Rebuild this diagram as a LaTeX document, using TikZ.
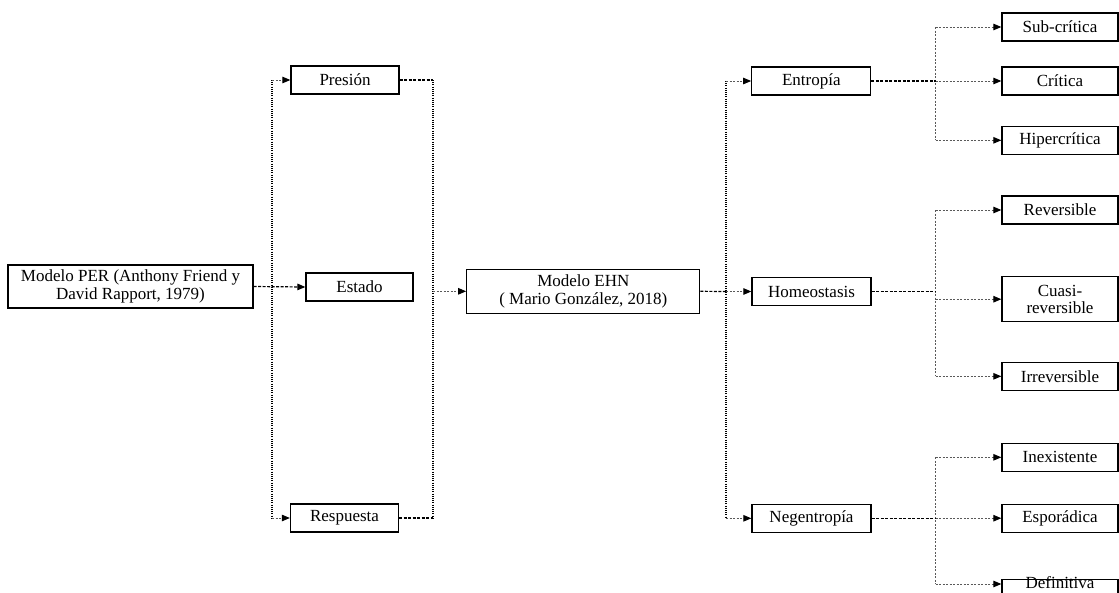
\documentclass[tikz,border=0pt]{standalone}
\usepackage{fontspec}
\setmainfont{Liberation Serif}
\usetikzlibrary{arrows.meta}
\begin{document}
\begin{tikzpicture}[x=1pt,y=-1pt,
  box/.style={draw, line width=1.3pt, minimum height=28pt, inner sep=2pt,
    font=\fontsize{17}{17.5}\selectfont, align=center},
  vline/.style={line width=1.1pt, dash pattern=on 1pt off 1.2pt},
  hd/.style={line width=1.2pt, dash pattern=on 3pt off 1.5pt},
  gl/.style={gray!70!black, line width=1pt, dash pattern=on 2pt off 1.5pt},
  arr/.style={-{Triangle[length=8pt,width=6.5pt,color=black]}}]
\useasboundingbox (0,0) rectangle (1119,592);
\clip (0,0) rectangle (1119,592);
% nodes
\node[box, minimum width=245pt, minimum height=43pt] (per) at (130.5,286.5) {Modelo PER (Anthony Friend y\\David Rapport, 1979)};
\node[box, minimum width=108pt] (pres) at (345,80) {Presión};
\node[box, minimum width=107pt] (est) at (359.5,287) {Estado};
\node[box, minimum width=108pt] (resp) at (344.5,518) {Respuesta};
\node[box, minimum width=233pt, minimum height=44pt] (ehn) at (583.3,291.3) {Modelo EHN\\( Mario González, 2018)};
\node[box, minimum width=119pt] (ent) at (811.3,81) {Entropía};
\node[box, minimum width=119pt] (hom) at (811.5,291.5) {Homeostasis};
\node[box, minimum width=119pt] (neg) at (811.5,518.3) {Negentropía};
\node[box, minimum width=116pt] (sub) at (1060,27) {Sub-crítica};
\node[box, minimum width=116pt] (cri) at (1060,81) {Crítica};
\node[box, minimum width=116pt] (hip) at (1060,140.3) {Hipercrítica};
\node[box, minimum width=116pt] (rev) at (1060,210) {Reversible};
\node[box, minimum width=116pt, minimum height=45pt] (cua) at (1060,299.2) {Cuasi-\\reversible};
\node[box, minimum width=116pt] (irr) at (1060,376.3) {Irreversible};
\node[box, minimum width=116pt] (ine) at (1060,457.3) {Inexistente};
\node[box, minimum width=116pt] (esp) at (1060,518.2) {Esporádica};
\node[box, minimum width=116pt, minimum height=0pt, anchor=north, text height=7.5pt, text depth=20pt, inner ysep=1pt] (def) at (1060,579) {Definitiva};
% junction columns
\coordinate (L) at (272,0);
\coordinate (R) at (433,0);
\coordinate (M) at (726,0);
\coordinate (B) at (935.5,0);
% left part
\draw[vline] (pres.west -| L) -- (resp.west -| L);
\draw[gl, arr] (pres.west -| L) -- (pres.west);
\draw[gl, arr] (resp.west -| L) -- (resp.west);
\draw[hd, arr] (per.east) -- (est.west);
\draw[vline] (pres.east -| R) -- (resp.east -| R);
\draw[hd] (pres.east) -- (pres.east -| R);
\draw[hd] (resp.east) -- (resp.east -| R);
\draw[gl, arr] (ehn.west -| R) -- (ehn.west);
% middle
\draw[vline] (ent.west -| M) -- (neg.west -| M);
\draw[gl, arr] (ent.west -| M) -- (ent.west);
\draw[gl, arr] (neg.west -| M) -- (neg.west);
\draw[hd] (ehn.east) -- (hom.west -| M);
\draw[gl, arr] (hom.west -| M) -- (hom.west);
% entropia branch
\draw[gl] (sub.west -| B) -- (hip.west -| B);
\draw[hd] (ent.east) -- (ent.east -| B);
\draw[gl, arr] (sub.west -| B) -- (sub.west);
\draw[gl, arr] (cri.west -| B) -- (cri.west);
\draw[gl, arr] (hip.west -| B) -- (hip.west);
% homeostasis branch
\draw[gl] (rev.west -| B) -- (irr.west -| B);
\draw[hd] (hom.east) -- (hom.east -| B);
\draw[gl, arr] (rev.west -| B) -- (rev.west);
\draw[gl, arr] (cua.west -| B) -- (cua.west);
\draw[gl, arr] (irr.west -| B) -- (irr.west);
% negentropia branch
\coordinate (dw) at ([yshift=-5pt]def.north west);
\draw[gl] (ine.west -| B) -- (dw -| B);
\draw[hd] (neg.east) -- (neg.east -| B);
\draw[gl, arr] (ine.west -| B) -- (ine.west);
\draw[gl, arr] (esp.west -| B) -- (esp.west);
\draw[gl, arr] (dw -| B) -- (dw);
\end{tikzpicture}
\end{document}
